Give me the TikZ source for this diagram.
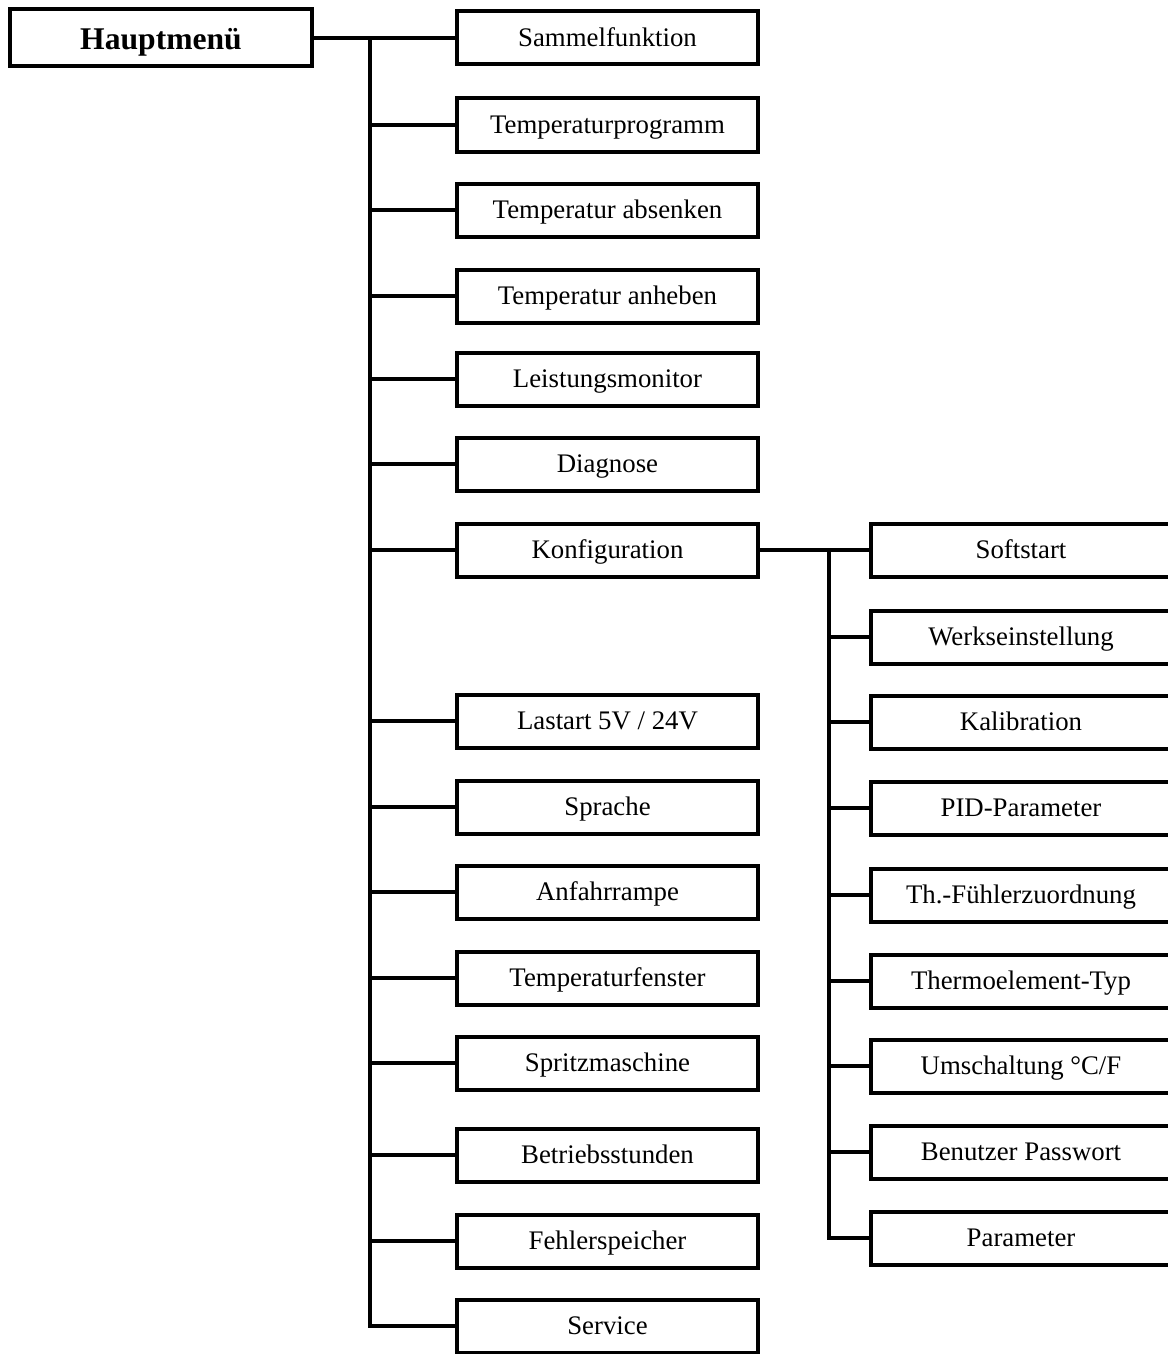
\documentclass[tikz,border=0pt]{standalone}
\usepackage{fontspec}
\setmainfont{Liberation Serif}
\usetikzlibrary{positioning}

\begin{document}
\begin{tikzpicture}[x=0.5pt, y=-0.5pt, line width=2pt,
        menubox/.style={draw, line width=2pt, inner sep=0pt,
                minimum width=150.5pt, minimum height=26.5pt,
                text height=10.3pt, text depth=1.9pt,
                font=\fontsize{13.4}{16}\selectfont}]
        \useasboundingbox (0,0) rectangle (1167,1354);

        % Parameters
        \def\mainX{607.5}       % centre of the first column
        \def\subX{1021}         % centre of the configuration column
        \def\busX{369.5}        % main vertical line
        \def\subBusX{829}       % configuration vertical line

        % Root
        \node[menubox, minimum width=151pt, minimum height=28.5pt,
                text height=12.9pt, text depth=1.4pt,
                font=\bfseries\fontsize{15.8}{19}\selectfont] (haupt) at (161,38) {Hauptmenü};

        % First level
        \foreach \y/\name/\txt in {38/sammel/Sammelfunktion, 125/tprog/Temperaturprogramm,
                210/absenk/Temperatur absenken, 296/anheb/Temperatur anheben,
                379/leist/Leistungsmonitor, 464/diag/Diagnose, 550/konf/Konfiguration,
                721/last/{Lastart 5V / 24V}, 807/sprache/Sprache, 892/rampe/Anfahrrampe,
                978/fenster/Temperaturfenster, 1063/spritz/Spritzmaschine,
                1155/stunden/Betriebsstunden, 1241/fehler/Fehlerspeicher, 1326/service/Service} {
            \node[menubox] (\name) at (\mainX,\y) {\txt};
            \coordinate (b\name) at (\busX,\y);
            \draw (b\name) -- (\name.west);
        }
        \draw (haupt.east) -- (sammel.west);
        \draw (bsammel) -- (bservice) -- (service.west);

        % Konfiguration submenu
        \foreach \y/\name/\txt in {550/soft/Softstart, 637/werk/Werkseinstellung,
                722/kalib/Kalibration, 808/pid/PID-Parameter, 895/fuehler/Th.-Fühlerzuordnung,
                981/thermo/Thermoelement-Typ, 1066/umsch/{Umschaltung °C/F},
                1152/passwort/Benutzer Passwort, 1238/param/Parameter} {
            \node[menubox] (\name) at (\subX,\y) {\txt};
            \coordinate (b\name) at (\subBusX,\y);
            \draw (b\name) -- (\name.west);
        }
        \draw (konf.east) -- (soft.west);
        \draw (bsoft) -- (bparam) -- (param.west);

    \end{tikzpicture}
\end{document}
